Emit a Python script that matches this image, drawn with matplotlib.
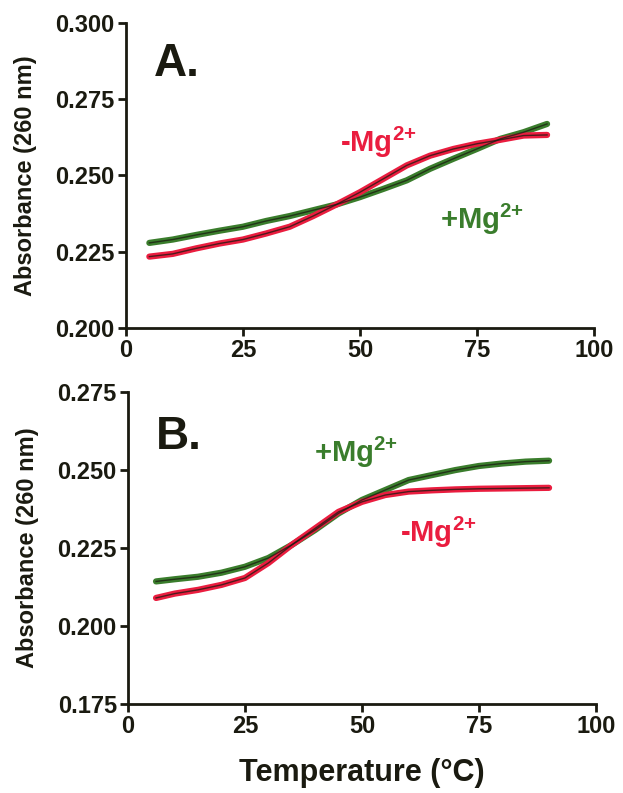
import matplotlib
matplotlib.use("Agg")
import matplotlib.pyplot as plt
import numpy as np

plt.rcParams['font.family'] = ['Liberation Sans', 'DejaVu Sans']
plt.rcParams['font.weight'] = 'bold'
plt.rcParams['mathtext.fontset'] = 'custom'
plt.rcParams['mathtext.rm'] = 'Liberation Sans:bold'
plt.rcParams['mathtext.bf'] = 'Liberation Sans:bold'
plt.rcParams['mathtext.default'] = 'bf'

# --- DATA ---
temp_a = [5, 10, 15, 20, 25, 30, 35, 40, 45, 50, 55, 60, 65, 70, 75, 80, 85, 90]
plus_a = [0.2279, 0.2290, 0.2305, 0.2319, 0.2332, 0.2351, 0.2367, 0.2386, 0.2405,
          0.2429, 0.2456, 0.2484, 0.2522, 0.2555, 0.2587, 0.2620, 0.2642, 0.2669]
minus_a = [0.2234, 0.2243, 0.2261, 0.2277, 0.2290, 0.2310, 0.2332, 0.2367, 0.2405,
           0.2445, 0.2489, 0.2533, 0.2565, 0.2587, 0.2604, 0.2617, 0.2631, 0.2633]

temp_b = [6, 10, 15, 20, 25, 30, 35, 40, 45, 50, 55, 60, 65, 70, 75, 80, 85, 90]
plus_b = [0.2143, 0.2150, 0.2158, 0.2171, 0.2190, 0.2218, 0.2260, 0.2308, 0.2361,
          0.2404, 0.2436, 0.2468, 0.2484, 0.2500, 0.2513, 0.2521, 0.2527, 0.2530]
minus_b = [0.2090, 0.2104, 0.2116, 0.2132, 0.2154, 0.2202, 0.2260, 0.2313, 0.2366,
           0.2398, 0.2420, 0.2431, 0.2435, 0.2438, 0.2440, 0.2441, 0.2442, 0.2443]

RED = '#ea1d3f'
GREEN = '#3a7d2c'
INK = '#1a1a10'

fig = plt.figure(figsize=(6.23, 7.93), dpi=100)
ax_a = fig.add_axes([0.2022, 0.5864, 0.751, 0.3846])
ax_b = fig.add_axes([0.2054, 0.1122, 0.751, 0.3934])


def style(ax, ylim, yticks):
    ax.set_xlim(0, 100)
    ax.set_ylim(*ylim)
    ax.set_xticks([0, 25, 50, 75, 100])
    ax.set_yticks(yticks)
    ax.set_yticklabels([f"{v:.3f}" for v in yticks])
    for s in ['top', 'right']:
        ax.spines[s].set_visible(False)
    for s in ['left', 'bottom']:
        ax.spines[s].set_linewidth(2)
        ax.spines[s].set_color(INK)
    ax.tick_params(direction='out', length=6, width=2, labelsize=17,
                   colors=INK, pad=2)
    ax.set_ylabel("Absorbance (260 nm)", fontsize=17, fontweight='bold',
                  color=INK, labelpad=13)


def draw(ax, x, y, color):
    ax.plot(x, y, color=color, lw=4.5, solid_capstyle='round', zorder=2)
    ax.plot(x, y, color=INK, lw=1.0, alpha=0.75, zorder=3)


# --- Panel A ---
style(ax_a, (0.200, 0.300), [0.200, 0.225, 0.250, 0.275, 0.300])
draw(ax_a, temp_a, plus_a, GREEN)
draw(ax_a, temp_a, minus_a, RED)
ax_a.text(6, 0.2865, "A.", fontsize=33, fontweight='bold', color=INK,
          va='center', ha='left')
ax_a.text(54, 0.2609, "-Mg$^{2{+}}$", fontsize=21, color=RED, ha='center', va='center')
ax_a.text(76, 0.2355, "+Mg$^{2{+}}$", fontsize=21, color=GREEN, ha='center', va='center')

# --- Panel B ---
style(ax_b, (0.175, 0.275), [0.175, 0.200, 0.225, 0.250, 0.275])
draw(ax_b, temp_b, plus_b, GREEN)
draw(ax_b, temp_b, minus_b, RED)
ax_b.text(6, 0.2606, "B.", fontsize=33, fontweight='bold', color=INK,
          va='center', ha='left')
ax_b.text(48.7, 0.2558, "+Mg$^{2{+}}$", fontsize=21, color=GREEN, ha='center', va='center')
ax_b.text(66.4, 0.2301, "-Mg$^{2{+}}$", fontsize=21, color=RED, ha='center', va='center')
ax_b.set_xlabel("Temperature (°C)", fontsize=22, fontweight='bold',
                color=INK, labelpad=14)

fig.savefig('out.png', dpi=100)
